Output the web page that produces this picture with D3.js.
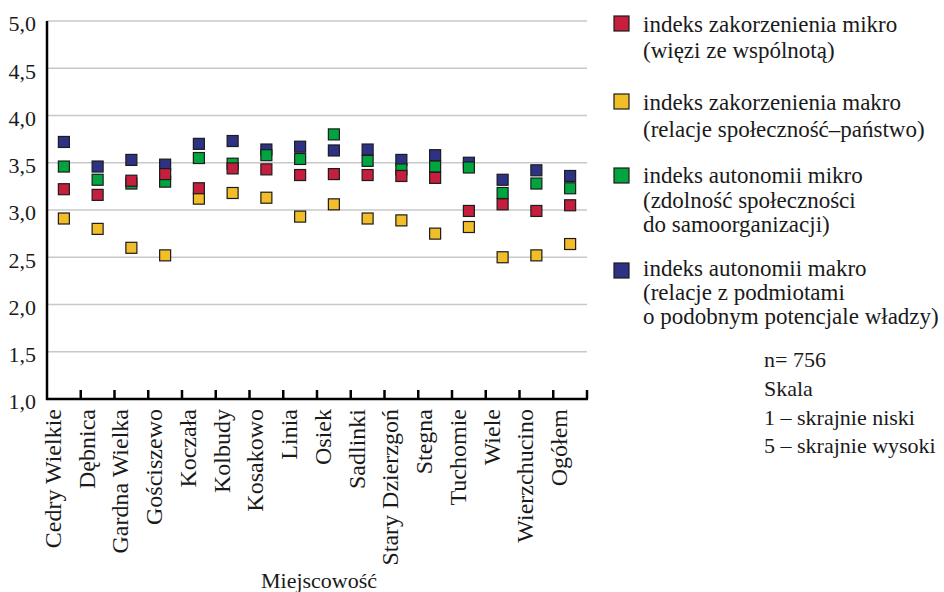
<!DOCTYPE html>
<html>
<head>
<meta charset="utf-8">
<script src="https://cdn.jsdelivr.net/npm/d3@7"></script>
<style>
  html, body { margin: 0; padding: 0; background: #ffffff; }
  svg { display: block; }
</style>
</head>
<body>
<svg id="chart" width="944" height="592"></svg>
<script>
const categories = ["Cedry Wielkie", "Dębnica", "Gardna Wielka", "Gościszewo", "Koczała", "Kolbudy", "Kosakowo", "Linia", "Osiek", "Sadlinki", "Stary Dzierzgoń", "Stegna", "Tuchomie", "Wiele", "Wierzchucino", "Ogółem"];

const zakorzenieniaMikro = [3.22, 3.16, 3.31, 3.38, 3.23, 3.44, 3.43, 3.37, 3.38, 3.37, 3.36, 3.34, 2.99, 3.06, 2.99, 3.05];
const zakorzenieniaMakro = [2.91, 2.80, 2.60, 2.52, 3.12, 3.18, 3.13, 2.93, 3.06, 2.91, 2.89, 2.75, 2.82, 2.50, 2.52, 2.64];
const autonomiiMikro     = [3.46, 3.32, 3.28, 3.30, 3.55, 3.49, 3.58, 3.54, 3.80, 3.52, 3.43, 3.46, 3.45, 3.18, 3.28, 3.23];
const autonomiiMakro     = [3.72, 3.46, 3.53, 3.48, 3.70, 3.73, 3.64, 3.67, 3.63, 3.64, 3.53, 3.58, 3.50, 3.32, 3.42, 3.36];

const yTicks = [1.0, 1.5, 2.0, 2.5, 3.0, 3.5, 4.0, 4.5, 5.0];
const xTitle = "Miejscowość";

const legendItems = [
  { name: "zakorzenieniaMikro", color: "#c61f3e", lines: ["indeks zakorzenienia mikro", "(więzi ze wspólnotą)"] },
  { name: "zakorzenieniaMakro", color: "#f1bd29", lines: ["indeks zakorzenienia makro", "(relacje społeczność–państwo)"] },
  { name: "autonomiiMikro",     color: "#00a53f", lines: ["indeks autonomii mikro", "(zdolność społeczności", "do samoorganizacji)"] },
  { name: "autonomiiMakro",     color: "#2e3285", lines: ["indeks autonomii makro", "(relacje z podmiotami", "o podobnym potencjale władzy)"] }
];
const notes = ["n= 756", "Skala", "1 – skrajnie niski", "5 – skrajnie wysoki"];

const seriesData = {
  zakorzenieniaMikro, zakorzenieniaMakro, autonomiiMikro, autonomiiMakro
};

const FONT = "'Liberation Serif', 'Times New Roman', Times, serif";
const svg = d3.select("#chart");
const pLeft = 47, pRight = 587, pTop = 21, pBottom = 399;

const x = d3.scaleBand().domain(categories).range([pLeft, pRight]).paddingInner(0).paddingOuter(0);
const y = d3.scaleLinear().domain([1, 5]).range([pBottom, pTop]);

// gridlines
svg.append("g").selectAll("line").data(yTicks.filter(t => t > 1)).join("line")
  .attr("x1", pLeft).attr("x2", pRight)
  .attr("y1", d => y(d)).attr("y2", d => y(d))
  .attr("stroke", "#c8c8c8").attr("stroke-width", 1.5);

// y axis
const yAxis = d3.axisLeft(y).tickValues(yTicks).tickSize(0).tickPadding(11)
  .tickFormat(d => d3.format(".1f")(d).replace(".", ","));
const gy = svg.append("g").attr("transform", `translate(${pLeft},0)`).call(yAxis)
  .attr("font-family", FONT);
gy.select(".domain").remove();
gy.selectAll("text").attr("dy", "0.45em")
  .style("font-family", FONT).style("font-size", "22px").style("fill", "#1a1a1a");
svg.append("line").attr("x1", pLeft).attr("x2", pLeft).attr("y1", pTop).attr("y2", pBottom + 1)
  .attr("stroke", "#000").attr("stroke-width", 2.5);

// x axis
svg.append("line").attr("x1", pLeft - 1).attr("x2", pRight + 1).attr("y1", pBottom).attr("y2", pBottom)
  .attr("stroke", "#000").attr("stroke-width", 2.5);
const boundaries = categories.map(c => x(c) + x.bandwidth());
svg.append("g").selectAll("line").data(boundaries).join("line")
  .attr("x1", d => d).attr("x2", d => d)
  .attr("y1", pBottom).attr("y2", pBottom - 9)
  .attr("stroke", "#000").attr("stroke-width", 2.5);

// x labels
svg.append("g").selectAll("text").data(categories).join("text")
  .attr("transform", d => `translate(${x(d) + x.bandwidth() / 2 - 3},409) rotate(-90)`)
  .attr("text-anchor", "end")
  .style("font-family", FONT).style("font-size", "24px").style("fill", "#1a1a1a")
  .text(d => d);

svg.append("text").attr("x", (pLeft + pRight) / 2 + 2).attr("y", 588)
  .attr("text-anchor", "middle")
  .style("font-family", FONT).style("font-size", "22px").style("fill", "#1a1a1a")
  .text(xTitle);

// markers (draw order: reverse legend)
const size = 11;
const drawOrder = ["autonomiiMakro", "autonomiiMikro", "zakorzenieniaMakro", "zakorzenieniaMikro"];
drawOrder.forEach(name => {
  const item = legendItems.find(l => l.name === name);
  const vals = seriesData[name];
  svg.append("g").selectAll("rect").data(categories.map((c, i) => ({ c, v: vals[i] }))).join("rect")
    .attr("x", d => x(d.c) + x.bandwidth() / 2 - size / 2)
    .attr("y", d => y(d.v) - size / 2)
    .attr("width", size).attr("height", size)
    .attr("fill", item.color)
    .attr("stroke", "#1c1c1c").attr("stroke-width", 1.2);
});

// legend
const legendSquareY = [16, 94, 168, 263];
const legendBaselines = [[32, 58], [110, 137], [183, 208, 232], [276, 300, 324]];
legendItems.forEach((item, i) => {
  svg.append("rect").attr("x", 614).attr("y", legendSquareY[i])
    .attr("width", 15).attr("height", 15)
    .attr("fill", item.color).attr("stroke", "#1c1c1c").attr("stroke-width", 1.2);
  item.lines.forEach((ln, j) => {
    svg.append("text").attr("x", 643).attr("y", legendBaselines[i][j])
      .style("font-family", FONT).style("font-size", "23px").style("fill", "#1a1a1a")
      .text(ln);
  });
});

// notes
const noteBaselines = [367, 396, 425, 453];
notes.forEach((n, i) => {
  svg.append("text").attr("x", 764).attr("y", noteBaselines[i])
    .style("font-family", FONT).style("font-size", "22px").style("fill", "#1a1a1a")
    .text(n);
});
</script>
</body>
</html>
